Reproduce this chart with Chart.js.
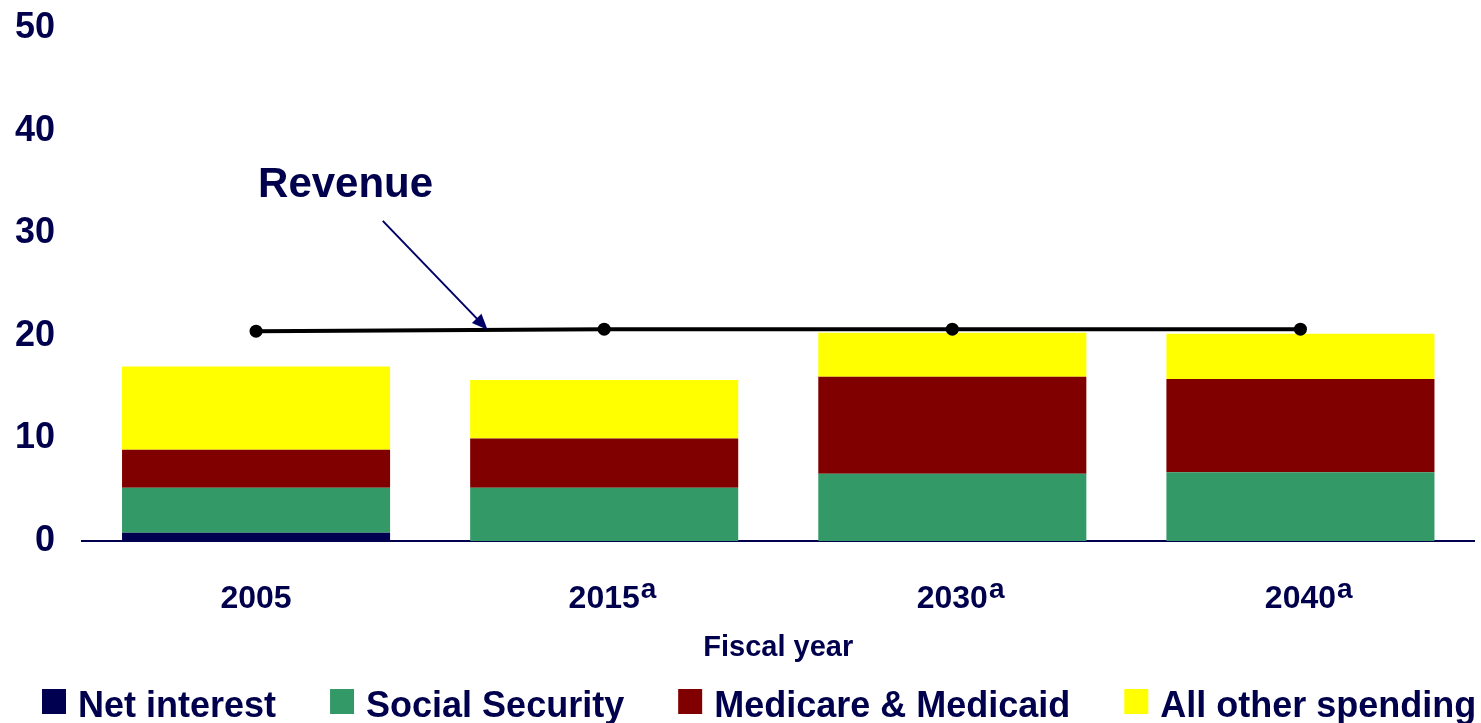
<!DOCTYPE html>
<html>
<head>
<meta charset="utf-8">
<script src="https://cdn.jsdelivr.net/npm/chart.js@4.4.0/dist/chart.umd.min.js"></script>
<style>
    html, body { margin: 0; padding: 0; background: #ffffff; }
    #wrap { width: 1481px; height: 723px; position: relative; }
</style>
</head>
<body>
<div id="wrap"><canvas id="chart"></canvas></div>
<script>
// Data (percent of GDP)
const categories = ['2005', '2015', '2030', '2040'];
const footnotes = ['', 'a', 'a', 'a'];
const netInterest = [0.8, 0, 0, 0];
const socialSecurity = [4.4, 5.2, 6.55, 6.7];
const medicare = [3.7, 4.8, 9.45, 9.1];
const otherSpending = [8.1, 5.7, 4.3, 4.4];
const revenue = [20.45, 20.65, 20.65, 20.65];
const yMin = 0;
const yMax = 50;
const yStep = 10;

const NAVY = '#00004d';
const FONT = '"Liberation Sans", Arial, Helvetica, sans-serif';

document.addEventListener('DOMContentLoaded', function() {
    drawChart();
});

// superscript "a" after the year labels
const footnotePlugin = {
    id: 'footnotes',
    afterDraw(chart) {
        const ctx = chart.ctx;
        const xScale = chart.scales.x;
        ctx.save();
        ctx.fillStyle = NAVY;
        footnotes.forEach((note, i) => {
            if (!note) return;
            ctx.font = 'bold 32px ' + FONT;
            const w = ctx.measureText(categories[i]).width;
            const x = xScale.getPixelForValue(i) + w / 2 + 1;
            ctx.font = 'bold 28px ' + FONT;
            ctx.textBaseline = 'alphabetic';
            ctx.textAlign = 'left';
            ctx.fillText(note, x, xScale.top + 57);
        });
        ctx.restore();
    }
};

// "Revenue" label with arrow pointing at the line
const revenueNotePlugin = {
    id: 'revenueNote',
    afterDraw(chart) {
        const ctx = chart.ctx;
        const xs = chart.scales.x;
        const ys = chart.scales.y;
        ctx.save();
        ctx.fillStyle = NAVY;
        ctx.font = 'bold 42px ' + FONT;
        ctx.textBaseline = 'alphabetic';
        ctx.fillText('Revenue', xs.getPixelForValue(0) + 2, ys.getPixelForValue(33.5));

        const x1 = xs.getPixelForValue(0.364), y1 = ys.getPixelForValue(31.2);
        const x2 = xs.getPixelForValue(0.665), y2 = ys.getPixelForValue(20.6);
        const ang = Math.atan2(y2 - y1, x2 - x1);
        const head = 17;
        ctx.strokeStyle = '#000066';
        ctx.lineWidth = 2;
        ctx.beginPath();
        ctx.moveTo(x1, y1);
        ctx.lineTo(x2 - Math.cos(ang) * head * 0.8, y2 - Math.sin(ang) * head * 0.8);
        ctx.stroke();
        ctx.fillStyle = '#000066';
        ctx.beginPath();
        ctx.moveTo(x2, y2);
        ctx.lineTo(x2 - head * Math.cos(ang - 0.4), y2 - head * Math.sin(ang - 0.4));
        ctx.lineTo(x2 - head * Math.cos(ang + 0.4), y2 - head * Math.sin(ang + 0.4));
        ctx.closePath();
        ctx.fill();
        ctx.restore();
    }
};

// legend row along the bottom edge
const bottomLegendPlugin = {
    id: 'bottomLegend',
    afterDraw(chart) {
        const ctx = chart.ctx;
        const items = chart.data.datasets.filter(d => d.type !== 'line');
        let x = 42;
        const boxTop = 689;
        ctx.save();
        ctx.font = 'bold 36px ' + FONT;
        ctx.textBaseline = 'alphabetic';
        items.forEach(d => {
            ctx.fillStyle = d.backgroundColor;
            ctx.fillRect(x, boxTop, 24, 25);
            x += 24 + 12;
            ctx.fillStyle = NAVY;
            ctx.fillText(d.label, x, 717);
            x += ctx.measureText(d.label).width + 54;
        });
        ctx.restore();
    }
};

function drawChart() {
    const ctx = document.getElementById('chart').getContext('2d');
    const barDefaults = { stack: 'spend', order: 1, borderWidth: 0, barPercentage: 0.77, categoryPercentage: 1.0 };

    new Chart(ctx, {
        type: 'bar',
        data: {
            labels: categories,
            datasets: [
                Object.assign({ label: 'Net interest', data: netInterest, backgroundColor: '#000050' }, barDefaults),
                Object.assign({ label: 'Social Security', data: socialSecurity, backgroundColor: '#339966' }, barDefaults),
                Object.assign({ label: 'Medicare & Medicaid', data: medicare, backgroundColor: '#800000' }, barDefaults),
                Object.assign({ label: 'All other spending', data: otherSpending, backgroundColor: '#ffff00' }, barDefaults),
                {
                    type: 'line',
                    label: 'Revenue',
                    data: revenue,
                    stack: 'revenue',
                    order: 0,
                    borderColor: '#000000',
                    borderWidth: 4,
                    pointRadius: 6.5,
                    pointBackgroundColor: '#000000',
                    pointBorderWidth: 0,
                    tension: 0,
                    fill: false
                }
            ]
        },
        options: {
            responsive: true,
            maintainAspectRatio: false,
            animation: false,
            layout: { padding: { top: 28, right: 5, bottom: 48, left: 0 } },
            plugins: {
                legend: { display: false },
                tooltip: { enabled: false }
            },
            scales: {
                x: {
                    stacked: true,
                    grid: { display: false, drawTicks: false },
                    border: { display: true, color: NAVY, width: 2 },
                    afterFit: function(scale) { scale.height = 73 + 61; },
                    ticks: {
                        color: NAVY,
                        padding: 39,
                        font: { family: FONT, size: 32, weight: 'bold' }
                    },
                    title: {
                        display: true,
                        text: 'Fiscal year',
                        color: NAVY,
                        font: { family: FONT, size: 29, weight: 'bold' },
                        padding: { top: 16, bottom: 10 }
                    }
                },
                y: {
                    stacked: true,
                    min: yMin,
                    max: yMax,
                    grid: { display: false, drawTicks: false },
                    border: { display: false },
                    afterFit: function(scale) {
                        scale.width = 82;
                        scale.paddingTop = 0;
                        scale.paddingBottom = 0;
                    },
                    ticks: {
                        stepSize: yStep,
                        color: NAVY,
                        padding: 27,
                        font: { family: FONT, size: 36, weight: 'bold' }
                    }
                }
            }
        },
        plugins: [footnotePlugin, revenueNotePlugin, bottomLegendPlugin]
    });
}
</script>
</body>
</html>
